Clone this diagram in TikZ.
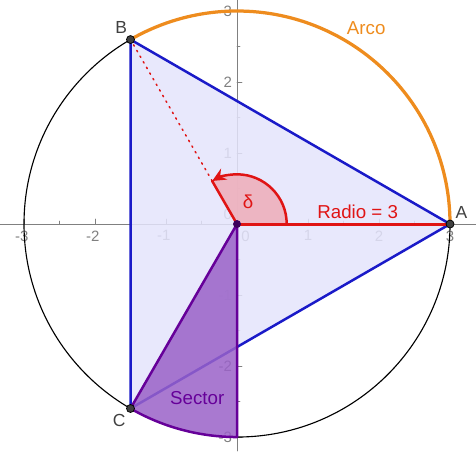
\documentclass[tikz,border=0pt]{standalone}
\usepackage{fontspec}
\setmainfont{Liberation Sans}
\usetikzlibrary{arrows.meta}
\definecolor{axisgray}{HTML}{808080}
\definecolor{triblue}{HTML}{1A1AC8}
\definecolor{trifill}{HTML}{E4E4FC}
\definecolor{arcorange}{HTML}{EE8C1E}
\definecolor{radred}{HTML}{E01414}
\definecolor{anglefill}{HTML}{EEB0BC}
\definecolor{secfill}{HTML}{9A62C8}
\definecolor{secline}{HTML}{660099}
\definecolor{ptgray}{HTML}{404040}

\tikzset{
  axisline/.style={axisgray, line width=0.35pt},
  majortick/.style={axisgray, line width=0.35pt},
  ticklabel/.style={font=\fontsize{6}{7}\selectfont, text=axisgray, inner sep=1pt},
  ptlabel/.style={font=\fontsize{7}{8}\selectfont, text=ptgray, inner sep=0pt},
  ptdot/.style={circle, fill=ptgray, draw=black, line width=0.3pt, minimum size=3.2pt, inner sep=0pt},
}

\begin{document}
\begin{tikzpicture}[>={Stealth[length=5.5pt, width=5pt]}, line cap=round]
\useasboundingbox (-3.338,-3.197) rectangle (3.366,3.155);
\coordinate (O) at (0,0);
\coordinate (A) at (0:3);
\coordinate (B) at (120:3);
\coordinate (C) at (240:3);
\coordinate (S) at (270:3);
\coordinate (D) at (120:0.7);
\coordinate (E) at (0:0.7);
% axes
\draw[axisline] (-3.338,0) -- (3.366,0);
\draw[axisline] (0,-3.197) -- (0,3.155);
\draw[majortick] (-3,0) -- (-3,0.07) (-2,0) -- (-2,0.07) (-1,0) -- (-1,0.07) (1,0) -- (1,0.07) (2,0) -- (2,0.07) (3,0) -- (3,0.07);
\draw[majortick] (-2.5,0) -- (-2.5,0.04) (-1.5,0) -- (-1.5,0.04) (-0.5,0) -- (-0.5,0.04) (0.5,0) -- (0.5,0.04) (1.5,0) -- (1.5,0.04) (2.5,0) -- (2.5,0.04);
\draw[majortick] (0,-3) -- (0.07,-3) (0,-2) -- (0.07,-2) (0,-1) -- (0.07,-1) (0,1) -- (0.07,1) (0,2) -- (0.07,2) (0,3) -- (0.07,3);
\draw[majortick] (0,-2.5) -- (0.04,-2.5) (0,-1.5) -- (0.04,-1.5) (0,-0.5) -- (0.04,-0.5) (0,0.5) -- (0.04,0.5) (0,1.5) -- (0.04,1.5) (0,2.5) -- (0.04,2.5);
\node[ticklabel, anchor=north] (xm3) at (-3.03,-0.05) {-3};
\node[ticklabel, anchor=north] (xm2) at (-2.03,-0.05) {-2};
\node[ticklabel, anchor=north] (xm1) at (-1.03,-0.05) {-1};
\node[ticklabel, anchor=north west] (x0) at (0.02,-0.05) {0};
\node[ticklabel, anchor=north] (x1) at (1,-0.05) {1};
\node[ticklabel, anchor=north] (x2) at (2,-0.05) {2};
\node[ticklabel, anchor=north] (x3) at (3,-0.05) {3};
\node[ticklabel, anchor=east] (ym3) at (-0.03,-3) {-3};
\node[ticklabel, anchor=east] (ym2) at (-0.03,-2) {-2};
\node[ticklabel, anchor=east] (ym1) at (-0.03,-1) {-1};
\node[ticklabel, anchor=south east] (y0) at (-0.03,0.02) {0};
\node[ticklabel, anchor=east] (y1) at (-0.03,1) {1};
\node[ticklabel, anchor=east] (y2) at (-0.03,2) {2};
\node[ticklabel, anchor=east] (y3) at (-0.03,3) {3};
% circle and triangle
\draw[black, line width=0.45pt] (O) circle (3);
\fill[trifill, opacity=0.85] (A) -- (B) -- (C) -- cycle;
\draw[triblue, line width=1pt, line join=round] (A) -- (B) -- (C) -- cycle;
% sector
\fill[secfill, opacity=0.85] (O) -- (C) arc[start angle=240, end angle=270, radius=3] -- cycle;
\draw[secline, line width=1pt, line join=round] (O) -- (C) arc[start angle=240, end angle=270, radius=3] -- cycle;
% angle delta
\fill[anglefill, opacity=0.9] (O) -- (E) arc[start angle=0, end angle=120, radius=0.7] -- cycle;
\draw[radred, line width=1pt] (D) -- (O);
\draw[->, radred, line width=1pt] (E) arc[start angle=0, end angle=120, radius=0.7];
\draw[radred, line width=0.6pt, dotted] (D) -- (B);
% radius and arc
\draw[radred, line width=1.2pt] (O) -- (A);
\draw[arcorange, line width=1.3pt] (A) arc[start angle=0, end angle=120, radius=3];
% points
\node[ptdot] (nA) at (A) {};
\node[ptdot] (nB) at (B) {};
\node[ptdot] (nC) at (C) {};
\node[circle, fill=secline!60!black, minimum size=3.2pt, inner sep=0pt] (nO) at (O) {};
\node[ptlabel] (lA) at (3.16,0.16) {A};
\node[ptlabel] (lB) at (-1.63,2.77) {B};
\node[ptlabel] (lC) at (-1.66,-2.76) {C};
% labels
\node[font=\fontsize{7.5}{8}\selectfont, text=radred] (lradio) at (1.70,0.17) {Radio = 3};
\node[font=\fontsize{7.5}{8}\selectfont, text=arcorange] (larco) at (1.82,2.76) {Arco};
\node[font=\fontsize{7.5}{8}\selectfont, text=secline] (lsector) at (-0.56,-2.45) {Sector};
\node[font=\fontsize{7.5}{8}\selectfont, text=radred] (ldelta) at (0.155,0.31) {δ};
\end{tikzpicture}
\end{document}
